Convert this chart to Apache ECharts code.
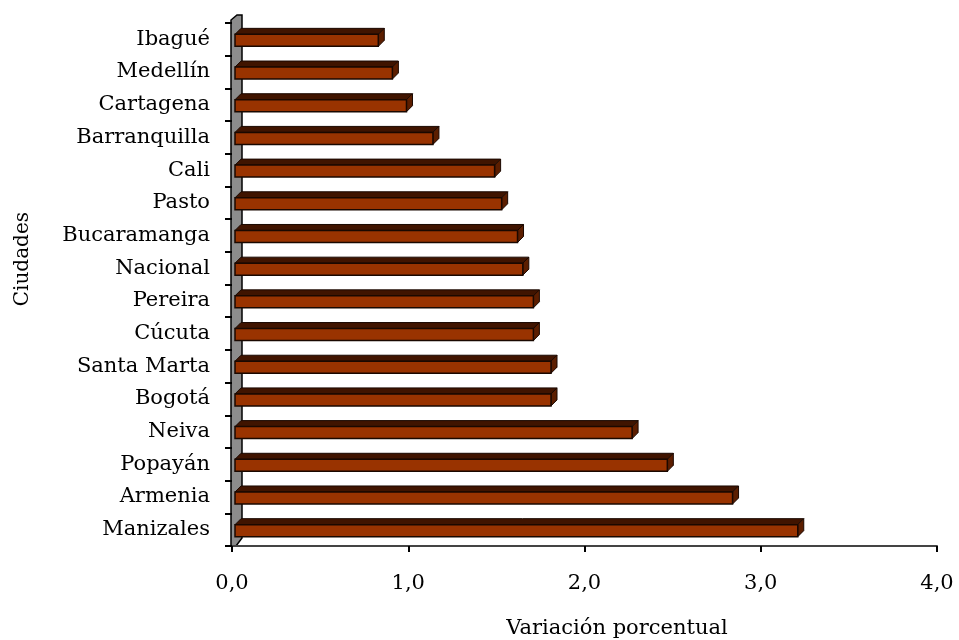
<!DOCTYPE html>
<html>
<head>
<meta charset="utf-8">
<script src="https://cdn.jsdelivr.net/npm/echarts@6/dist/echarts.min.js"></script>
<style>html,body{margin:0;padding:0;background:#fff;}#c{width:959px;height:640px;}</style>
</head>
<body>
<div id="c"></div>
<script>
const categories = ["Ibagué","Medellín","Cartagena","Barranquilla","Cali","Pasto","Bucaramanga","Nacional","Pereira","Cúcuta","Santa Marta","Bogotá","Neiva","Popayán","Armenia","Manizales"];
const values = [0.83,0.91,0.99,1.14,1.49,1.53,1.62,1.65,1.71,1.71,1.81,1.81,2.27,2.47,2.84,3.21];
const xTicks = [0,1,2,3,4];
const xTitle = "Variación porcentual";
const yTitle = "Ciudades";

const FONT = "DejaVu Serif";
const chart = echarts.init(document.getElementById('c'), null, {renderer:'canvas'});

function renderItem(params, api) {
  const i = api.value(0);
  const v = api.value(1);
  const p0 = api.coord([0, i]);
  const p1 = api.coord([v, i]);
  const h = 12, d = 6;
  const x0 = p0[0] + 3, x1 = p1[0];
  const top = p0[1] - h/2 + 1, bot = top + h;
  return {
    type: 'group',
    children: [
      {type:'polygon', shape:{points:[[x0,top],[x0+d,top-d],[x1+d,top-d],[x1,top]]},
       style:{fill:'#401400', stroke:'#1a0800', lineWidth:1}},
      {type:'polygon', shape:{points:[[x1,top],[x1+d,top-d],[x1+d,bot-d],[x1,bot]]},
       style:{fill:'#5c1e00', stroke:'#1a0800', lineWidth:1}},
      {type:'rect', shape:{x:x0, y:top, width:x1-x0, height:h},
       style:{fill:'#993300', stroke:'#1a0800', lineWidth:1.5}}
    ]
  };
}

chart.setOption({
  animation:false,
  backgroundColor:'#fff',
  grid:{left:232, right:22, top:23, bottom:94, containLabel:false},
  xAxis:{
    type:'value', min:xTicks[0], max:xTicks[xTicks.length-1], interval:1,
    axisLine:{show:true, lineStyle:{color:'#444', width:2}},
    axisTick:{show:true, length:6, lineStyle:{color:'#000', width:2}},
    axisLabel:{fontFamily:FONT, fontSize:21, color:'#000', margin:27,
      formatter:(v)=>v.toFixed(1).replace('.',',')},
    splitLine:{show:false}
  },
  yAxis:{
    type:'category', data:categories, inverse:true,
    axisLine:{show:false},
    axisTick:{show:true, length:7, lineStyle:{color:'#000', width:2}},
    axisLabel:{fontFamily:FONT, fontSize:21, color:'#000', margin:22},
    splitLine:{show:false}
  },
  series:[{
    type:'custom',
    renderItem: renderItem,
    encode:{x:1, y:0},
    data: values.map((v,i)=>[i,v])
  }]
});

function drawExtras(){
  const rect = chart.getModel().getComponent('grid',0).coordinateSystem.getRect();
  const xl = rect.x, yt = rect.y, yb = rect.y + rect.height;
  chart.setOption({
    graphic:[
      {type:'polygon', z:-1, shape:{points:[[xl-1,yb],[xl-1,yt-3],[xl+5,yt-8],[xl+10,yt-8],[xl+10,yb-8],[xl+4,yb]]},
       style:{fill:'#8c8c8c', stroke:'#000', lineWidth:1.5}},
      {type:'text', x:33, y:212, rotation:Math.PI/2,
       style:{text:yTitle, font:'20px "'+FONT+'"', fill:'#000', textAlign:'right', textVerticalAlign:'bottom'}},
      {type:'text', x:617, y:629,
       style:{text:xTitle, font:'21px "'+FONT+'"', fill:'#000', textAlign:'center', textVerticalAlign:'middle'}}
    ]
  });
}
drawExtras();
</script>
</body>
</html>
